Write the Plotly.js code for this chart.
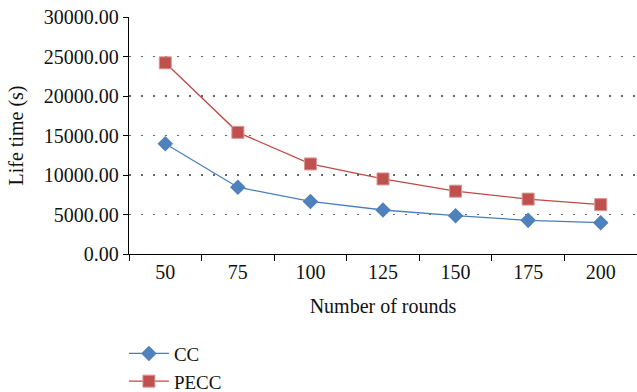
<!DOCTYPE html>
<html><head><meta charset="utf-8">
<script src="https://cdn.plot.ly/plotly-3.0.1.min.js"></script>
<style>html,body{margin:0;padding:0;background:#fff}</style>
</head><body>
<div id="chart" style="width:637px;height:392px"></div>
<script>
const categories = ["50","75","100","125","150","175","200"];
const ccValues = [13950, 8450, 6650, 5570, 4850, 4260, 3960];
const peccValues = [24200, 15400, 11400, 9500, 7950, 6950, 6250];
const seriesNames = ["CC","PECC"];

const font = {family: "'Liberation Serif', 'DejaVu Serif', serif", color: "#111"};
const data = [
  {x: categories, y: ccValues, name: seriesNames[0], type: "scatter", mode: "lines+markers",
   line: {color: "#4A7EBB", width: 1.3},
   marker: {symbol: "diamond", size: 12, color: "#4F81BD", line: {color: "#4F81BD", width: 0}}},
  {x: categories, y: peccValues, name: seriesNames[1], type: "scatter", mode: "lines+markers",
   line: {color: "#BE4B48", width: 1.3},
   marker: {symbol: "square", size: 12, color: "#C0504D", line: {color: "#D99694", width: 1}}}
];
const layout = {
  width: 637, height: 392,
  margin: {l: 129, r: 0, t: 17, b: 138, autoexpand: false},
  paper_bgcolor: "#fff", plot_bgcolor: "#fff",
  font: Object.assign({size: 20}, font),
  showlegend: true,
  legend: {x: -0.01, xanchor: "left", y: -0.34, yanchor: "top", orientation: "v",
           font: Object.assign({size: 19}, font), tracegroupgap: 0, itemwidth: 40,
           bgcolor: "rgba(0,0,0,0)"},
  xaxis: {type: "category", showgrid: false, zeroline: false,
          showline: true, linecolor: "#000", linewidth: 1.3,
          ticks: "outside", ticklen: 6, tickcolor: "#000", tickson: "boundaries",
          tickfont: Object.assign({size: 20}, font),
          title: {text: "Number of rounds", font: Object.assign({size: 20}, font), standoff: 16},
          range: [-0.5, 6.5]},
  yaxis: {range: [0, 30000], dtick: 5000, tickformat: ".2f",
          showgrid: true, gridcolor: "#666", griddash: "1.5px,10.5px", gridwidth: 1.3,
          zeroline: false, showline: true, linecolor: "#000", linewidth: 1.3,
          ticks: "outside", ticklen: 5, tickcolor: "#000",
          tickfont: Object.assign({size: 20}, font),
          title: {text: "Life time (s)", font: Object.assign({size: 20}, font), standoff: 14}}
};
Plotly.newPlot("chart", data, layout, {displayModeBar: false, staticPlot: true});
</script>
</body></html>
